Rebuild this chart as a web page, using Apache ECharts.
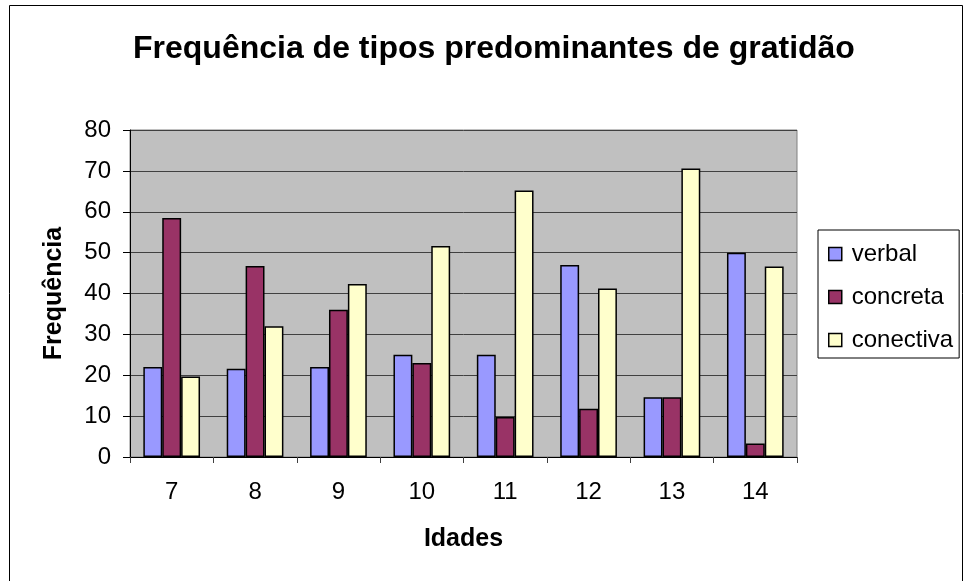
<!DOCTYPE html>
<html><head><meta charset="utf-8">
<script src="https://cdn.jsdelivr.net/npm/echarts@6/dist/echarts.min.js"></script>
<style>html,body{margin:0;padding:0;background:#fff}#c{width:966px;height:581px}</style>
</head><body><div id="c"></div>
<script>
const categories = ['7','8','9','10','11','12','13','14'];
const verbal = [22, 21.6, 22, 25, 25, 47, 14.6, 50];
const concreta = [58.5, 46.7, 36, 23, 9.8, 11.8, 14.6, 3.3];
const conectiva = [19.7, 32, 42.3, 51.6, 65.2, 41.2, 70.6, 46.6];
const yTicks = [0, 80, 10];
const F = 'Liberation Sans, Arial, sans-serif';
const chart = echarts.init(document.getElementById('c'));
const barStyle = c => ({color: c, borderColor: '#000', borderWidth: 1.5});
chart.setOption({
  animation: false,
  title: {text: 'Frequência de tipos predominantes de gratidão', left: 133, top: 33, padding: 0,
    textStyle: {fontFamily: F, fontSize: 32, fontWeight: 'bold', color: '#000'}},
  grid: {left: 130, right: 169, top: 130, bottom: 124, show: true, backgroundColor: '#c0c0c0', borderColor: '#808080', borderWidth: 1},
  legend: {orient: 'vertical', left: 818, top: 230, padding: [12, 6, 6, 10],
    itemGap: 19, itemWidth: 13, itemHeight: 13, icon: 'rect',
    borderColor: '#000', borderWidth: 1,
    itemStyle: {borderColor: '#000', borderWidth: 1.5},
    textStyle: {fontFamily: F, fontSize: 24, color: '#000', padding: [0, 0, 0, 5]},
    data: ['verbal','concreta','conectiva']},
  xAxis: {type: 'category', data: categories,
    name: 'Idades', nameLocation: 'middle', nameGap: 70,
    nameTextStyle: {fontFamily: F, fontSize: 25, fontWeight: 'bold', color: '#000'},
    axisLine: {lineStyle: {color: '#000', width: 1}},
    axisTick: {show: true, length: 6, lineStyle: {color: '#404040'}},
    axisLabel: {fontFamily: F, fontSize: 24, color: '#000', margin: 23}},
  yAxis: {type: 'value', min: yTicks[0], max: yTicks[1], interval: yTicks[2],
    name: 'Frequência', nameLocation: 'middle', nameGap: 63, nameRotate: 90,
    nameTextStyle: {fontFamily: F, fontSize: 25, fontWeight: 'bold', color: '#000'},
    axisLine: {show: true, lineStyle: {color: '#000', width: 1}},
    axisTick: {show: true, length: 7, lineStyle: {color: '#000'}},
    axisLabel: {fontFamily: F, fontSize: 24, color: '#000', margin: 19},
    splitLine: {lineStyle: {color: '#404040', width: 1}}},
  series: [
    {name: 'verbal', type: 'bar', data: verbal, itemStyle: barStyle('#9999FF'), barGap: '0%', barCategoryGap: '32%'},
    {name: 'concreta', type: 'bar', data: concreta, itemStyle: barStyle('#993366')},
    {name: 'conectiva', type: 'bar', data: conectiva, itemStyle: barStyle('#FFFFCC')}
  ],
  graphic: [{type: 'rect', shape: {x: 9.5, y: 5.5, width: 953, height: 600}, style: {fill: 'none', stroke: '#000', lineWidth: 1}, silent: true}]
});
</script></body></html>
